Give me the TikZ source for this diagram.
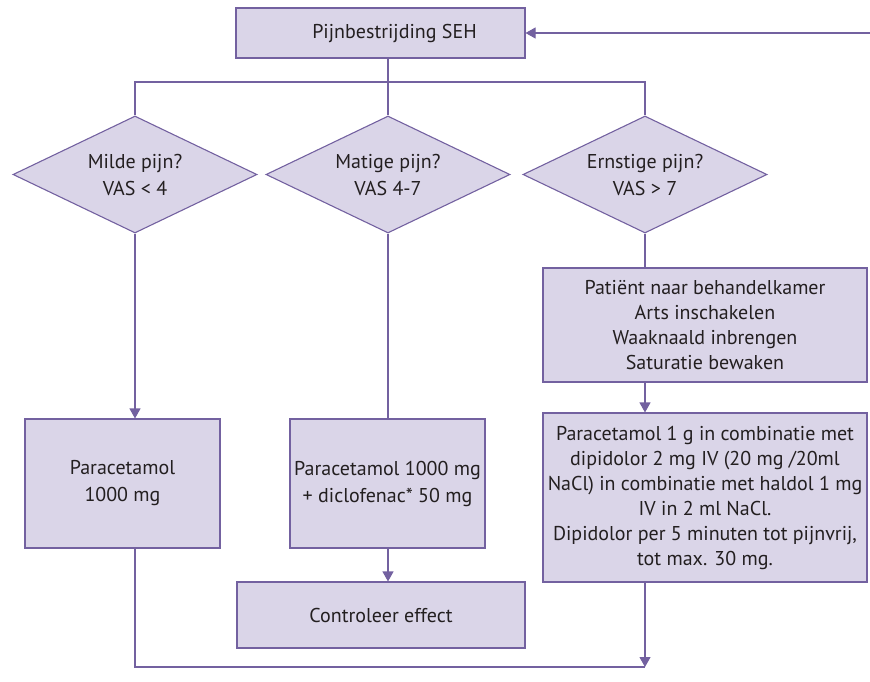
\documentclass[tikz,border=0pt]{standalone}
\usepackage{fontspec}
\setmainfont{PT Sans}
\usetikzlibrary{shapes.geometric,arrows.meta}
\definecolor{boxfill}{HTML}{DAD5E8}
\definecolor{boxline}{HTML}{7361A0}
\definecolor{ink}{HTML}{231F20}

\begin{document}
\begin{tikzpicture}[x=1pt,y=-1pt,
  flow/.style={draw=boxline, line width=1.1pt},
  arr/.style={flow, -{Triangle[length=10pt,width=11pt]}},
  box/.style={rectangle, draw=boxline, fill=boxfill, line width=1.1pt,
    inner sep=0pt, align=center, text=ink, font=\fontsize{20}{27}\selectfont},
  tightbox/.style={box, font=\fontsize{20}{25}\selectfont},
  decision/.style={diamond, draw=boxline, fill=boxfill, line width=1.1pt,
    inner sep=0pt, align=center, text=ink, font=\fontsize{20}{27}\selectfont,
    shape aspect=2.08, minimum width=244pt, minimum height=117pt},
]
\useasboundingbox (0,0) rectangle (870,681);

% start box and the incoming return line
\node[box, minimum width=289pt, minimum height=50pt] (top) at (380.5,33)
  {\hspace*{28pt}Pijnbestrijding SEH};
\coordinate (in) at (870,33);
\draw[arr] (in) -- (top.east);

% the three pain levels
\node[decision] (d1) at (135,174.5) {Milde pijn?\\VAS < 4};
\node[decision] (d2) at (388,174.5) {Matige pijn?\\VAS 4-7};
\node[decision] (d3) at (645,174.5) {Ernstige pijn?\\VAS > 7};

\coordinate (split) at (388,82);
\draw[flow] (top.south -| split) -- (split);
\draw[flow] (d1.north) -- (d1.north |- split) -- (d3.north |- split) -- (d3.north);
\draw[flow] (split) -- (d2.north);

% treatment boxes
\node[box, minimum width=195pt, minimum height=129pt] (L) at (122.5,483.5)
  {Paracetamol\\1000 mg};
\node[box, minimum width=195pt, minimum height=129pt] (M) at (387.5,483.5)
  {Paracetamol 1000 mg\\+ diclofenac* 50 mg};
\node[box, minimum width=288pt, minimum height=66pt] (C) at (381,615)
  {Controleer effect};
\node[tightbox, minimum width=324pt, minimum height=114pt] (R1) at (705,325)
  {Patiënt naar behandelkamer\\Arts inschakelen\\Waaknaald inbrengen\\Saturatie bewaken};
\node[tightbox, minimum width=324pt, minimum height=169pt] (R2) at (705,497.5)
  {Paracetamol 1 g in combinatie met\\dipidolor 2 mg IV (20 mg /20ml\\NaCl) in combinatie met haldol 1 mg\\IV in 2 ml NaCl.\\Dipidolor per 5 minuten tot pijnvrij,\\tot max. 30 mg.};

\draw[arr] (d1.south) -- (d1.south |- L.north);
\draw[flow] (d2.south) -- (d2.south |- M.north);
\draw[arr] (M.south -| d2.south) -- (C.north -| d2.south);
\draw[flow] (d3.south) -- (d3.south |- R1.north);
\draw[arr] (R1.south -| d3.south) -- (R2.north -| d3.south);

% merge at the bottom
\coordinate (merge) at (645,667);
\draw[arr] (R2.south -| merge) -- (merge);
\draw[flow] (L.south -| d1.south) |- (merge);
\end{tikzpicture}
\end{document}
